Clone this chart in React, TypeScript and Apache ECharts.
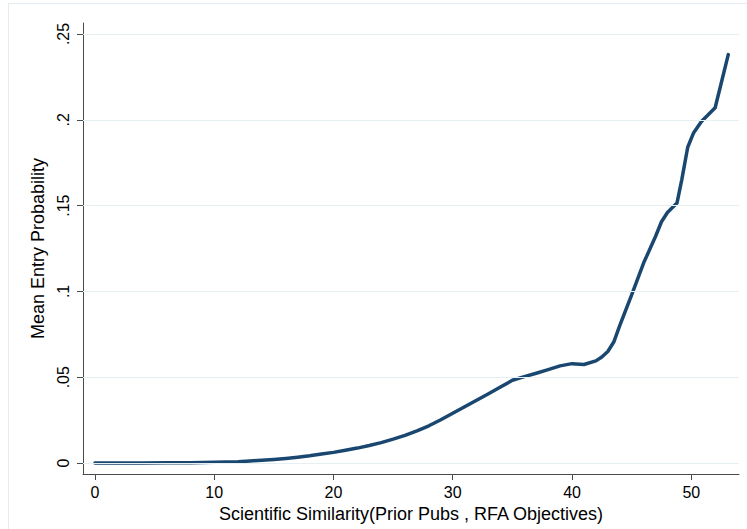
import React, { useEffect, useRef } from "react";
import * as echarts from "echarts";

const xValues = [0, 2, 4, 6, 8, 10, 11, 12, 13, 14, 15, 16, 17, 18, 19, 20, 21, 22, 23, 24, 25, 26, 27, 28, 29, 30, 31, 32, 33, 34, 35, 36, 37, 38, 39, 40, 41, 42, 42.5, 43, 43.5, 44, 45, 46, 47, 47.5, 48, 48.8, 49.2, 49.7, 50.2, 50.85, 51.5, 52, 53.1];
const yValues = [0, 0, 0, 0.0001, 0.0002, 0.0004, 0.0006, 0.0008, 0.0012, 0.0016, 0.0021, 0.0027, 0.0034, 0.0042, 0.0052, 0.0062, 0.0074, 0.0087, 0.0102, 0.0119, 0.0139, 0.0161, 0.0187, 0.0217, 0.0252, 0.029, 0.0328, 0.0366, 0.0404, 0.0443, 0.0482, 0.0503, 0.0523, 0.0544, 0.0566, 0.0579, 0.0574, 0.0595, 0.0618, 0.065, 0.0705, 0.08, 0.098, 0.1165, 0.132, 0.1406, 0.146, 0.1515, 0.165, 0.184, 0.1925, 0.199, 0.2035, 0.207, 0.238];

const yTicks = [0, 0.05, 0.1, 0.15, 0.2, 0.25];
const yTickLabels = ["0", ".05", ".1", ".15", ".2", ".25"];
const xTicks = [0, 10, 20, 30, 40, 50];
const xTickLabels = ["0", "10", "20", "30", "40", "50"];

const xTitle = "Scientific Similarity(Prior Pubs , RFA Objectives)";
const yTitle = "Mean Entry Probability";

export default function App() {
  const ref = useRef<HTMLDivElement>(null);
  useEffect(() => {
    if (!ref.current) return;
    const chart = echarts.init(ref.current, null, { renderer: "svg" });
    const font = "Liberation Sans, Arial, Helvetica, sans-serif";
    const axisColor = "#4a4a4a";
    const textColor = "#000";
    chart.setOption({
      animation: false,
      backgroundColor: "#ffffff",
      textStyle: { fontFamily: font },
      grid: { left: 83, right: 8, top: 23, bottom: 55, containLabel: false },
      graphic: [
        { type: "line", shape: { x1: 8, y1: 3.5, x2: 747, y2: 3.5 }, style: { stroke: "#e3edf1", lineWidth: 1 }, silent: true },
        { type: "line", shape: { x1: 8.5, y1: 3, x2: 8.5, y2: 529 }, style: { stroke: "#e3edf1", lineWidth: 1 }, silent: true },
      ],
      xAxis: {
        type: "value",
        min: -1,
        max: 54,
        name: xTitle,
        nameLocation: "middle",
        nameGap: 31,
        nameTextStyle: { fontSize: 18, color: textColor, fontFamily: font },
        axisLine: { show: true, onZero: false, lineStyle: { color: axisColor, width: 1 } },
        axisTick: { show: true, customValues: xTicks, length: 6, lineStyle: { color: axisColor } },
        axisLabel: {
          customValues: xTicks,
          margin: 10,
          fontSize: 16,
          color: textColor,
          fontFamily: font,
          formatter: (v: number) => {
            const i = xTicks.indexOf(v);
            return i >= 0 ? xTickLabels[i] : "";
          },
        },
        splitLine: { show: false },
      },
      yAxis: {
        type: "value",
        min: -0.0064,
        max: 0.2564,
        name: yTitle,
        nameLocation: "middle",
        nameGap: 35,
        nameRotate: 90,
        nameTextStyle: { fontSize: 18, color: textColor, fontFamily: font },
        axisLine: { show: true, onZero: false, lineStyle: { color: axisColor, width: 1 } },
        axisTick: { show: true, customValues: yTicks, length: 6, lineStyle: { color: axisColor } },
        axisLabel: {
          customValues: yTicks,
          rotate: 90,
          margin: 12,
          fontSize: 16,
          color: textColor,
          fontFamily: font,
          formatter: (v: number) => {
            const i = yTicks.findIndex((t) => Math.abs(t - v) < 1e-9);
            return i >= 0 ? yTickLabels[i] : "";
          },
        },
        splitLine: { show: false },
      },
      series: [
        {
          type: "line",
          data: [],
          z: 1,
          silent: true,
          markLine: {
            silent: true,
            symbol: ["none", "none"],
            label: { show: false },
            lineStyle: { color: "#e6eff2", width: 1.2, type: "solid" },
            data: yTicks.map((v) => ({ yAxis: v })),
          },
        },
        {
          type: "line",
          z: 3,
          data: xValues.map((x, i) => [x, yValues[i]]),
          showSymbol: false,
          smooth: false,
          lineStyle: { color: "#1a476f", width: 3.5, cap: "round", join: "round" },
        },
      ],
    });
    return () => chart.dispose();
  }, []);
  return <div ref={ref} style={{ position: "fixed", left: 0, top: 0, width: 747, height: 529 }} />;
}
